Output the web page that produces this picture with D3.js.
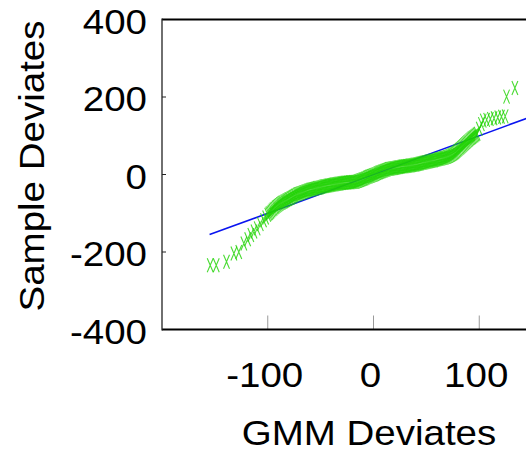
<!DOCTYPE html>
<html>
<head>
<meta charset="utf-8">
<script src="https://cdn.jsdelivr.net/npm/d3@7"></script>
<style>
html,body{margin:0;padding:0;background:#fff;}
svg{display:block;}
text{font-family:"Liberation Sans",Arial,Helvetica,sans-serif;fill:#000;}
</style>
</head>
<body>
<svg id="chart" width="526" height="455"></svg>
<script>
// GMM (theoretical) quantiles
const gmmQ = [
  -154.4, -148.7, -139, -132, -127.4, -122.6, -119, -116, -113, -110, -107, -104, -102,
  -100, -99, -98, -97, -96, -95, -94, -93, -92, -91, -90, -89, -88, -87, -86, -85,
  -84, -83, -82, -81, -80, -79, -78, -77, -76, -75, -74, -73, -72, -71, -70, -69,
  -68, -67, -66, -65, -64, -63, -62, -61, -60, -59, -58, -57, -56, -55, -54, -53,
  -52, -51, -50, -49, -48, -47, -46, -45, -44, -43, -42, -41, -40, -39, -38, -37,
  -36, -35, -34, -33, -32, -31, -30, -29, -28, -27, -26, -25, -24, -23, -22, -21,
  -20, -19, -18, -17, -16, -15, -14, -13, -12, -11, -10, -9, -8, -7, -6, -5,
  -4, -3, -2, -1, 0, 1, 2, 3, 4, 5, 6, 7, 8, 9, 10, 11,
  12, 13, 14, 15, 16, 17, 18, 19, 20, 21, 22, 23, 24, 25, 26, 27,
  28, 29, 30, 31, 32, 33, 34, 35, 36, 37, 38, 39, 40, 41, 42, 43,
  44, 45, 46, 47, 48, 49, 50, 51, 52, 53, 54, 55, 56, 57, 58, 59,
  60, 61, 62, 63, 64, 65, 66, 67, 68, 69, 70, 71, 72, 73, 74, 75,
  76, 77, 78, 79, 80, 81, 82, 83, 84, 85, 86, 87, 88, 89, 90, 91,
  92, 93, 94, 95, 96, 97, 98, 100, 102,
  103.8, 107, 110.5, 114, 117.5, 121, 124.5, 125.8, 133.7
];
// sample quantiles
const sampleQ = [
  -234, -234, -225, -204, -200, -178, -167, -156, -147, -139, -128, -118, -111,
  -104, -101, -99, -96, -93, -90, -88, -85, -83, -81, -79, -77, -75, -73, -72, -70,
  -69, -67, -66, -64, -63, -61, -60, -58, -57, -55, -54, -52, -51, -50, -49, -48,
  -47, -46, -45, -44, -43, -42, -41, -40, -39, -38.5, -38, -37.5, -37, -36, -35, -34.5,
  -34, -33.5, -33, -32, -31, -30.5, -30, -29.5, -29, -28.5, -28, -27.5, -27, -26.5, -26, -25.5,
  -25, -24.5, -24, -23.5, -23, -22.5, -22, -21.8, -21.5, -21.2, -21, -20.8, -20.5, -20.2, -20, -19.8,
  -19.5, -19.2, -19, -18.5, -18, -17, -16, -15, -14, -13, -12, -11, -10, -8.5, -7, -6,
  -5, -4, -3, -2, -1, 0, 1, 2.5, 4, 5, 6, 7, 8, 9, 10, 11,
  12, 13, 14, 14.5, 15, 15.5, 16, 16.5, 17, 17.5, 18, 18.5, 19, 19.5, 20, 20.5,
  21, 21.2, 21.5, 21.8, 22, 22.5, 23, 23.5, 24, 24.5, 25, 25.5, 26, 26.5, 27, 27.8,
  28.5, 29.2, 30, 30.5, 31, 31.5, 32, 32.8, 33.5, 34.2, 35, 35.5, 36, 36.5, 37, 37.8,
  38.5, 39.2, 40, 40.5, 41, 41.8, 42.5, 43.2, 44, 45, 46, 47, 48, 49.5, 51, 52.5,
  54, 56, 58, 60.5, 63, 65.5, 68, 70.5, 73, 75.5, 78, 80.5, 83, 85.5, 88, 90.5,
  93, 95, 97, 99, 101, 103, 105, 118, 130,
  139, 141, 143, 145, 147, 149, 150, 201, 223
];
// reference line (y = x) end points
const refLineX = [-155, 160];
const refLineY = [-155, 160];

const xTicks = [-100, 0, 100];
const yTicks = [-400, -200, 0, 200, 400];
const xLabel = "GMM Deviates";
const yLabel = "Sample Deviates";

const svg = d3.select("#chart");
const x = d3.scaleLinear().domain([-200, 200]).range([162, 585]);
const y = d3.scaleLinear().domain([-400, 400]).range([329.5, 19.5]);
const W = 526;
const stretch = 1.1;

function widen(sel){
  sel.each(function(){
    const l = this.getComputedTextLength();
    d3.select(this).attr("textLength", l * stretch).attr("lengthAdjust", "spacingAndGlyphs");
  });
}

// x tick marks (gray, inward from the bottom)
svg.append("g").selectAll("line").data(xTicks).join("line")
  .attr("x1", d => x(d)).attr("x2", d => x(d))
  .attr("y1", y(-400)).attr("y2", y(-400) - 14)
  .attr("stroke", "#9a9a9a").attr("stroke-width", 1);

// y tick marks (short, inward from the left)
svg.append("g").selectAll("line").data(yTicks).join("line")
  .attr("x1", x(-200)).attr("x2", x(-200) + 4)
  .attr("y1", d => y(d)).attr("y2", d => y(d))
  .attr("stroke", "#222").attr("stroke-width", 1);

// reference line (drawn under the markers)
svg.append("line")
  .attr("x1", x(refLineX[0])).attr("y1", y(refLineY[0]))
  .attr("x2", x(refLineX[1])).attr("y2", y(refLineY[1]))
  .attr("stroke", "#0a14f0").attr("stroke-width", 1.6);

// markers (tall thin 'x')
const pts = gmmQ.map((g, i) => [g, sampleQ[i]]);
svg.append("g").selectAll("path").data(pts).join("path")
  .attr("transform", d => `translate(${x(d[0])},${y(d[1])})`)
  .attr("d", "M-3,-7L3,7M-3,7L3,-7")
  .attr("fill", "none")
  .attr("stroke", "#1ed200")
  .attr("stroke-opacity", 0.8)
  .attr("stroke-width", 1.1);

// frame
svg.append("line").attr("x1", x(-200)).attr("x2", W).attr("y1", y(400)).attr("y2", y(400))
  .attr("stroke", "#000").attr("stroke-width", 2);
svg.append("line").attr("x1", x(-200)).attr("x2", W).attr("y1", y(-400)).attr("y2", y(-400))
  .attr("stroke", "#000").attr("stroke-width", 2);
svg.append("line").attr("x1", x(-200)).attr("x2", x(-200)).attr("y1", y(400) - 1).attr("y2", y(-400) + 1)
  .attr("stroke", "#222").attr("stroke-width", 1.3);

// y tick labels
svg.append("g").selectAll("text").data(yTicks).join("text")
  .attr("x", 147).attr("y", d => y(d) + 14)
  .attr("text-anchor", "end")
  .style("font-size", "35px")
  .text(d => d)
  .call(widen);

// x tick labels
svg.append("g").selectAll("text").data(xTicks).join("text")
  .attr("x", d => x(d) - 3).attr("y", 387)
  .attr("text-anchor", "middle")
  .style("font-size", "35px")
  .text(d => d)
  .call(widen);

// axis titles
svg.append("text").attr("x", 369).attr("y", 445)
  .attr("text-anchor", "middle").style("font-size", "35px")
  .text(xLabel).call(widen);

svg.append("text")
  .attr("transform", "translate(44,166) rotate(-90)")
  .attr("text-anchor", "middle").style("font-size", "35px")
  .text(yLabel).call(widen);
</script>
</body>
</html>
